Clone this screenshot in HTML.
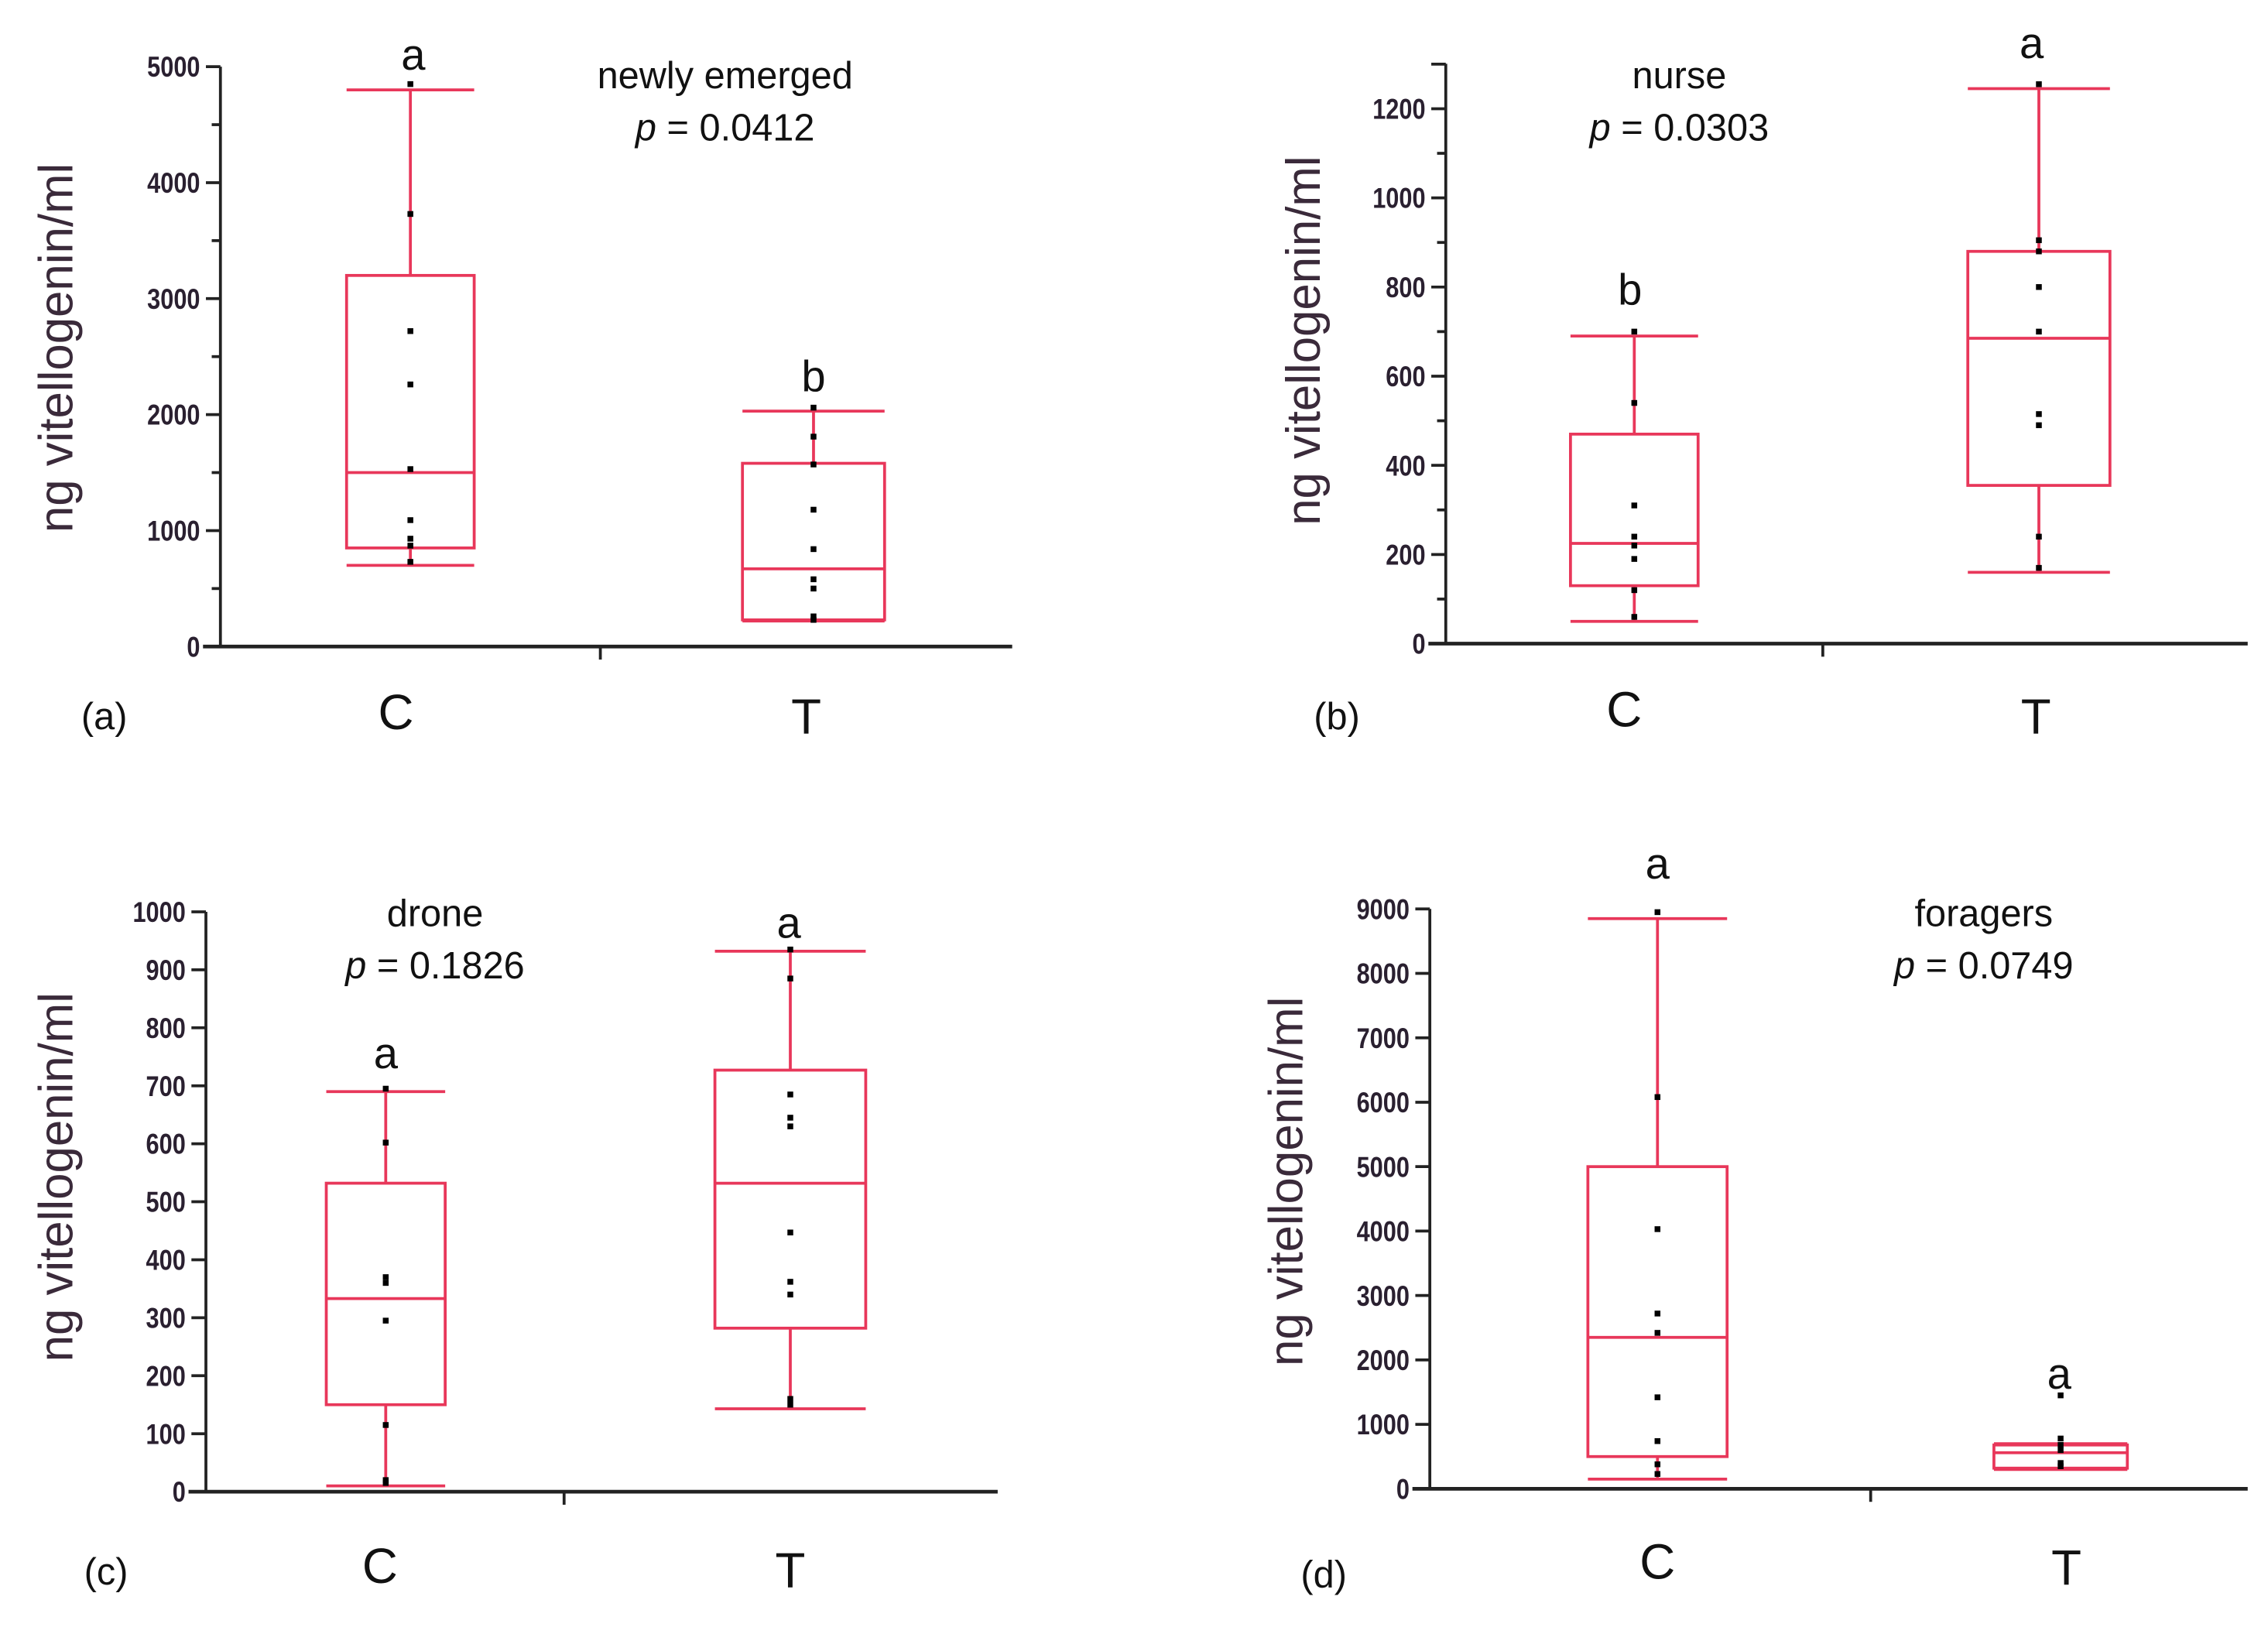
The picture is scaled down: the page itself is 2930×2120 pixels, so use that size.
<!DOCTYPE html>
<html><head><meta charset="utf-8"><style>
html,body{margin:0;padding:0;background:#fff;}
svg{display:block;font-family:"Liberation Sans",sans-serif;}
</style></head><body>
<svg id="fig" width="2930" height="2120" viewBox="0 0 1564 1132" preserveAspectRatio="none" xmlns="http://www.w3.org/2000/svg"></svg>
<script>
// Panel data (ng vitellogenin/ml)
const groups = ["C", "T"];
const aStats = [[700, 850, 1500, 3200, 4800], [220, 230, 670, 1580, 2030]];
const aPointsC = [4850, 3730, 2720, 2260, 1530, 1090, 930, 870, 730];
const aPointsT = [2060, 1810, 1570, 1180, 840, 580, 500, 260, 230];
const aTicks = [0, 1000, 2000, 3000, 4000, 5000];
const bStats = [[50, 130, 225, 470, 690], [160, 355, 685, 880, 1245]];
const bPointsC = [700, 540, 310, 240, 220, 190, 120, 60];
const bPointsT = [1255, 905, 880, 800, 700, 515, 490, 240, 170];
const bTicks = [0, 200, 400, 600, 800, 1000, 1200];
const cStats = [[10, 150, 333, 532, 690], [143, 282, 532, 727, 932]];
const cPointsC = [695, 602, 370, 360, 295, 115, 20, 15];
const cPointsT = [935, 885, 685, 645, 630, 447, 362, 340, 160, 150];
const cTicks = [0, 100, 200, 300, 400, 500, 600, 700, 800, 900, 1000];
const dStats = [[300, 320, 560, 680, 700], [150, 500, 2350, 5000, 8850]];
const dPointsC = [8950, 6080, 4030, 2720, 2420, 1420, 740, 380, 230];
const dPointsT = [1450, 780, 680, 600, 400, 350];
const dTicks = [0, 1000, 2000, 3000, 4000, 5000, 6000, 7000, 8000, 9000];

const NS = "http://www.w3.org/2000/svg";
const svg = document.getElementById("fig");
const RED = "#e8375a";
function mk(tag, attrs, parent, txt) {
  const e = document.createElementNS(NS, tag);
  for (const k in attrs) e.setAttribute(k, attrs[k]);
  if (txt !== undefined) e.textContent = txt;
  (parent || svg).appendChild(e);
  return e;
}

function panel(cfg) {
  const g = mk("g", {});
  
  
  const y = v => cfg.y0 - (v - cfg.vmin) / (cfg.vmax - cfg.vmin) * (cfg.y0 - cfg.yTop);
  const ax = mk("line", {x1: cfg.ax, y1: cfg.axisTop, x2: cfg.ax, y2: cfg.y0, stroke: "#222", "stroke-width": 2}, g);
  
  
  const xl = mk("line", {x1: cfg.ax - 12, y1: cfg.y0, x2: cfg.xEnd, y2: cfg.y0, stroke: "#222", "stroke-width": 2.5}, g);
  
  
  mk("line", {x1: cfg.mid, y1: cfg.y0, x2: cfg.mid, y2: cfg.y0 + 9, stroke: "#222", "stroke-width": 2}, g);
  const step = cfg.ticks[1] - cfg.ticks[0];
  cfg.ticks.forEach((t, i) => {
    mk("line", {x1: cfg.ax - 10, y1: y(t), x2: cfg.ax, y2: y(t), stroke: "#222", "stroke-width": 2}, g);
    if (cfg.minor && i < cfg.ticks.length - 1) {
      const m = t + step / 2;
      mk("line", {x1: cfg.ax - 6, y1: y(m), x2: cfg.ax, y2: y(m), stroke: "#222", "stroke-width": 2}, g);
    }
    const tl = mk("text", {x: cfg.ax - 14, y: y(t) + 7, "text-anchor": "end", "font-size": 20, "font-weight": 600, fill: "#2a2030", transform: `translate(${cfg.ax - 14},0) scale(0.82,1) translate(${-(cfg.ax - 14)},0)`}, g, String(t));
    
    
  });
  if (cfg.extraTop) {
    mk("line", {x1: cfg.ax - 10, y1: y(cfg.extraTop), x2: cfg.ax, y2: y(cfg.extraTop), stroke: "#222", "stroke-width": 2}, g);
  }
  const yl = mk("text", {x: 0, y: 0, "text-anchor": "middle", "font-size": 33, fill: "#3a2a3a", transform: `translate(${cfg.ylx},${cfg.yly}) rotate(-90)`}, g, "ng vitellogenin/ml");
  
  
  cfg.order.forEach((gi, k) => {
    const s = cfg.stats[gi];
    const cx = cfg.cx[k], hw = cfg.hw[k];
    const bg = mk("g", {}, g);
    
    
    mk("line", {x1: cx, y1: y(s[4]), x2: cx, y2: y(s[3]), stroke: RED, "stroke-width": 2}, bg);
    mk("line", {x1: cx, y1: y(s[1]), x2: cx, y2: y(s[0]), stroke: RED, "stroke-width": 2}, bg);
    mk("line", {x1: cx - hw, y1: y(s[4]), x2: cx + hw, y2: y(s[4]), stroke: RED, "stroke-width": 2}, bg);
    mk("line", {x1: cx - hw, y1: y(s[0]), x2: cx + hw, y2: y(s[0]), stroke: RED, "stroke-width": 2}, bg);
    mk("rect", {x: cx - hw, y: y(s[3]), width: 2 * hw, height: y(s[1]) - y(s[3]), fill: "none", stroke: RED, "stroke-width": 2}, bg);
    mk("line", {x1: cx - hw, y1: y(s[2]), x2: cx + hw, y2: y(s[2]), stroke: RED, "stroke-width": 2}, bg);
    cfg.points[k].forEach(p => {
      const d = mk("rect", {x: cx - 2, y: y(p) - 2, width: 4, height: 4, fill: "#000"}, bg);
      
      
    });
    const lt = mk("text", {x: cfg.letters[k][0], y: cfg.letters[k][1], "text-anchor": "middle", "font-size": 30, fill: "#111"}, g, cfg.letters[k][2]);
    
    
    const gl = mk("text", {x: cfg.glab[k][0], y: cfg.glab[k][1], "text-anchor": "middle", "font-size": 34, fill: "#111"}, g, groups[k]);
    
    
  });
  const t1 = mk("text", {x: cfg.title[0], y: cfg.title[1], "text-anchor": "middle", "font-size": 26, fill: "#111"}, g, cfg.title[2]);
  
  
  const t2 = mk("text", {x: cfg.title[0], y: cfg.title[1] + 36, "text-anchor": "middle", "font-size": 26, fill: "#111"}, g);
  
  
  mk("tspan", {"font-style": "italic"}, t2, "p");
  mk("tspan", {}, t2, " = " + cfg.p);
  const pl = mk("text", {x: cfg.plab[0], y: cfg.plab[1], "font-size": 26, fill: "#111"}, g, "(" + cfg.id + ")");
  
  
}

panel({id: "a", ax: 152, y0: 446, yTop: 46, axisTop: 46, vmin: 0, vmax: 5000, xEnd: 698, mid: 414, ticks: aTicks, minor: true,
  stats: aStats, order: [0, 1], points: [aPointsC, aPointsT], cx: [283, 561], hw: [44, 49],
  letters: [[285, 48, "a"], [561, 270, "b"]], glab: [[273, 503, "C"], [556, 506, "T"]],
  title: [500, 61, "newly emerged"], p: "0.0412", plab: [56, 503], ylx: 50, yly: 240});
panel({id: "b", ax: 997, y0: 444, yTop: 75, axisTop: 44, vmin: 0, vmax: 1200, xEnd: 1550, mid: 1257, ticks: bTicks, minor: true, extraTop: 1300,
  stats: bStats, order: [0, 1], points: [bPointsC, bPointsT], cx: [1127, 1406], hw: [44, 49],
  letters: [[1124, 210, "b"], [1401, 40, "a"]], glab: [[1120, 501, "C"], [1404, 506, "T"]],
  title: [1158, 61, "nurse"], p: "0.0303", plab: [906, 503], ylx: 910, yly: 235});
panel({id: "c", ax: 142, y0: 1029, yTop: 629, axisTop: 629, vmin: 0, vmax: 1000, xEnd: 688, mid: 389, ticks: cTicks, minor: false,
  stats: cStats, order: [0, 1], points: [cPointsC, cPointsT], cx: [266, 545], hw: [41, 52],
  letters: [[266, 737, "a"], [544, 647, "a"]], glab: [[262, 1092, "C"], [545, 1095, "T"]],
  title: [300, 639, "drone"], p: "0.1826", plab: [58, 1093], ylx: 50, yly: 812});
panel({id: "d", ax: 986, y0: 1027, yTop: 627, axisTop: 627, vmin: 0, vmax: 9000, xEnd: 1550, mid: 1290, ticks: dTicks, minor: false,
  stats: dStats, order: [1, 0], points: [dPointsC, dPointsT], cx: [1143, 1421], hw: [48, 46],
  letters: [[1143, 606, "a"], [1420, 958, "a"]], glab: [[1143, 1089, "C"], [1425, 1093, "T"]],
  title: [1368, 639, "foragers"], p: "0.0749", plab: [897, 1095], ylx: 898, yly: 815});
</script>
</body></html>
